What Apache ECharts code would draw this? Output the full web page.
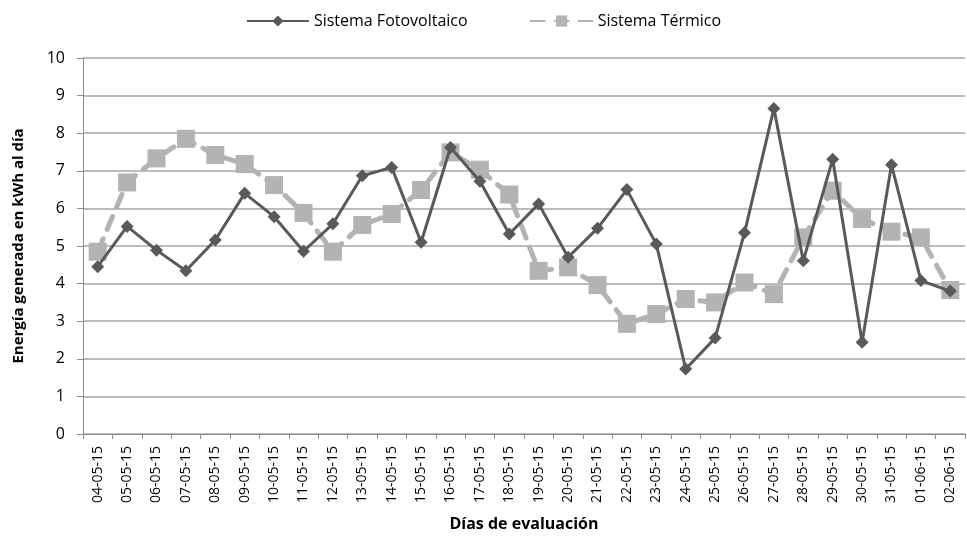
<!DOCTYPE html>
<html>
<head>
<meta charset="utf-8">
<script src="https://cdn.jsdelivr.net/npm/echarts@6/dist/echarts.min.js"></script>
<style>
  html, body { margin: 0; padding: 0; background: #fff; }
  #chart { width: 967px; height: 536px; }
</style>
</head>
<body>
<div id="chart"></div>
<script>
  // días de evaluación
  const dias = ['04-05-15','05-05-15','06-05-15','07-05-15','08-05-15','09-05-15','10-05-15','11-05-15',
    '12-05-15','13-05-15','14-05-15','15-05-15','16-05-15','17-05-15','18-05-15','19-05-15','20-05-15',
    '21-05-15','22-05-15','23-05-15','24-05-15','25-05-15','26-05-15','27-05-15','28-05-15','29-05-15',
    '30-05-15','31-05-15','01-06-15','02-06-15'];
  const fotovoltaico = [4.45,5.52,4.89,4.34,5.16,6.40,5.78,4.86,5.59,6.87,7.09,5.10,7.62,6.72,5.32,6.12,
    4.70,5.47,6.50,5.05,1.73,2.55,5.35,8.66,4.61,7.31,2.44,7.16,4.08,3.80];
  const termico = [4.85,6.69,7.33,7.85,7.42,7.18,6.62,5.88,4.85,5.56,5.85,6.49,7.49,7.03,6.37,4.34,
    4.43,3.96,2.93,3.19,3.59,3.50,4.03,3.72,5.23,6.47,5.72,5.38,5.23,3.83];

  const myChart = echarts.init(document.getElementById('chart'));
  const option = {
    animation: false,
    legend: {
      top: 8,
      left: 'center',
      itemWidth: 62,
      itemHeight: 14,
      itemGap: 62,
      textStyle: { fontFamily: 'Open Sans', fontSize: 16, color: '#000' },
      data: ['Sistema Fotovoltaico', 'Sistema Térmico']
    },
    grid: { left: 83, right: 2, top: 58, bottom: 102, containLabel: false, outerBoundsMode: 'none' },
    xAxis: {
      type: 'category',
      data: dias,
      boundaryGap: true,
      name: 'Días de evaluación',
      nameLocation: 'middle',
      nameGap: 82,
      nameTextStyle: { fontFamily: 'Open Sans', fontWeight: 'bold', fontSize: 16, color: '#000' },
      axisLine: { lineStyle: { color: '#8c8c8c', width: 1 } },
      axisTick: { show: true, length: 5, lineStyle: { color: '#8c8c8c' } },
      axisLabel: { rotate: 90, interval: 0, fontFamily: 'Open Sans', fontSize: 14, color: '#000', margin: 12 }
    },
    yAxis: {
      type: 'value',
      min: 0,
      max: 10,
      interval: 1,
      name: 'Energía generada en kWh al día',
      nameLocation: 'middle',
      nameGap: 57,
      nameTextStyle: { fontFamily: 'Open Sans', fontWeight: 'bold', fontSize: 15, color: '#000' },
      axisLine: { show: true, lineStyle: { color: '#8c8c8c' } },
      axisTick: { show: true, length: 6, lineStyle: { color: '#8c8c8c' } },
      axisLabel: { fontFamily: 'Open Sans', fontSize: 16, color: '#000', margin: 18 },
      splitLine: { lineStyle: { color: '#a6a6a6', width: 1.5 } }
    },
    series: [
      {
        name: 'Sistema Fotovoltaico',
        type: 'line',
        data: fotovoltaico,
        symbol: 'diamond',
        symbolSize: 13,
        itemStyle: { color: '#595959' },
        lineStyle: { color: '#595959', width: 3 },
        z: 3
      },
      {
        name: 'Sistema Térmico',
        type: 'line',
        data: termico,
        symbol: 'rect',
        symbolSize: 18,
        itemStyle: { color: '#b3b3b3' },
        lineStyle: { color: '#b3b3b3', width: 5, type: [14, 10], cap: 'round' },
        z: 2
      }
    ]
  };
  myChart.setOption(option);
</script>
</body>
</html>
